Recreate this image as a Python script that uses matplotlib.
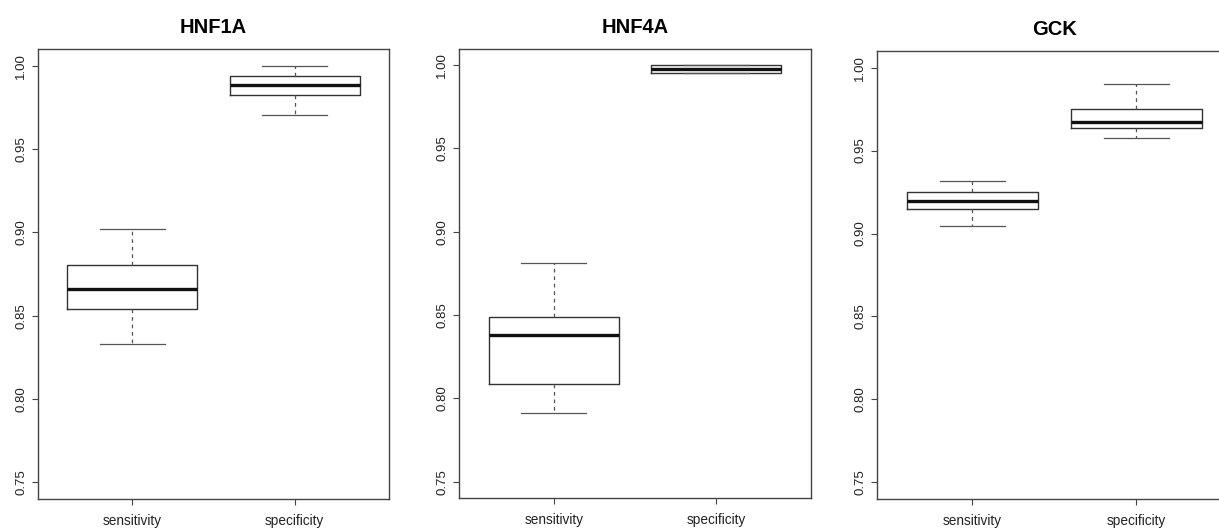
import matplotlib
matplotlib.use('Agg')
from matplotlib import pyplot as plt

plt.rcParams['font.family'] = ['Liberation Sans', 'DejaVu Sans']

genes = ['HNF1A', 'HNF4A', 'GCK']
groups = ['sensitivity', 'specificity']

# five-number summaries: [sensitivity, specificity]
whislo = {'HNF1A': [0.833, 0.9705], 'HNF4A': [0.7913, 0.9954], 'GCK': [0.9046, 0.9574]}
q1 = {'HNF1A': [0.854, 0.9825], 'HNF4A': [0.8085, 0.9954], 'GCK': [0.9148, 0.9636]}
med = {'HNF1A': [0.866, 0.9886], 'HNF4A': [0.8382, 0.9978], 'GCK': [0.9195, 0.9671]}
q3 = {'HNF1A': [0.8805, 0.994], 'HNF4A': [0.849, 1.0], 'GCK': [0.9249, 0.9753]}
whishi = {'HNF1A': [0.902, 1.0], 'HNF4A': [0.8815, 1.0], 'GCK': [0.9319, 0.9904]}

yticks = [0.75, 0.80, 0.85, 0.90, 0.95, 1.00]

W, H = 1219, 529
# axes boxes in pixels: left, top, right, bottom
boxes = [(38, 49, 389, 499), (459.3, 48.5, 810.7, 498.3), (877.3, 51, 1231.5, 499)]

fig = plt.figure(figsize=(W / 100, H / 100), dpi=100)
line_col = '#444444'

for gene, (l, t, r, b) in zip(genes, boxes):
    ax = fig.add_axes([l / W, (H - b) / H, (r - l) / W, (b - t) / H])
    stats = []
    for i, g in enumerate(groups):
        stats.append({'label': g, 'whislo': whislo[gene][i], 'q1': q1[gene][i],
                      'med': med[gene][i], 'q3': q3[gene][i], 'whishi': whishi[gene][i],
                      'fliers': []})
    ax.bxp(stats, positions=[1, 2], widths=0.8, capwidths=0.4, showfliers=False,
           boxprops=dict(color='#333333', linewidth=1.0),
           medianprops=dict(color='#111111', linewidth=2.4, solid_capstyle='butt'),
           whiskerprops=dict(color='#555555', linewidth=0.9, linestyle=(0, (3, 3))),
           capprops=dict(color='#555555', linewidth=0.9))
    ax.set_xlim(0.42, 2.58)
    ax.set_ylim(0.74, 1.01)
    ax.set_yticks(yticks)
    ax.set_yticklabels(['%.2f' % v for v in yticks], rotation=90, va='center')
    ax.set_xticks([1, 2])
    ax.set_xticklabels(groups)
    ax.tick_params(axis='y', length=4.3, pad=3.6, labelsize=9.5, color=line_col, labelcolor='#222222')
    ax.tick_params(axis='x', length=4.3, pad=6.5, labelsize=9.8, color=line_col, labelcolor='#222222')
    for s in ax.spines.values():
        s.set_color(line_col)
        s.set_linewidth(1.0)
    ax.set_title(gene, fontsize=14.5, fontweight='bold', pad=11.5)

fig.savefig('out.png', dpi=100)
